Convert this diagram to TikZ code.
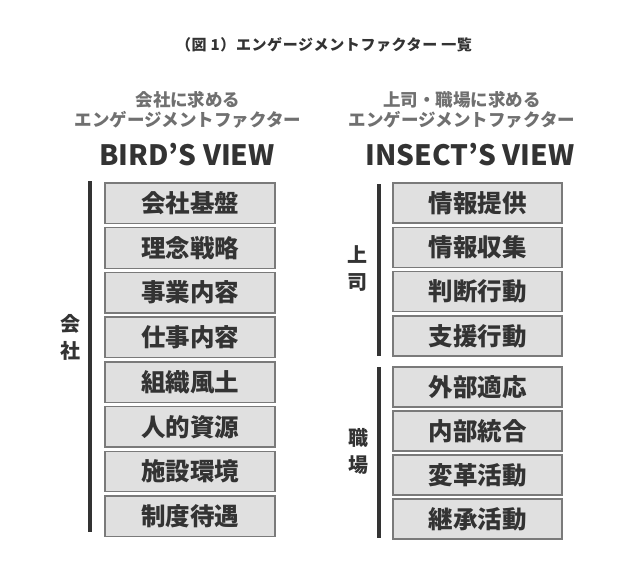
\documentclass[tikz,border=0pt]{standalone}
\usepackage{fontspec}
\setmainfont{Noto Sans CJK JP}[BoldFont={Noto Sans CJK JP Bold}]
\newfontfamily\heavy{Noto Sans CJK JP Black}
\definecolor{txt}{HTML}{333333}
\definecolor{sub}{HTML}{707070}
\definecolor{boxfill}{HTML}{E0E0E0}
\definecolor{boxline}{HTML}{7A7A7A}
\begin{document}
\begin{tikzpicture}[x=1pt,y=-1pt,
  factor/.style={draw=boxline,line width=1.4pt,fill=boxfill,text=txt,
    minimum width=170pt,minimum height=40.5pt,inner sep=0pt,
    font=\heavy\fontsize{24.5}{24.5}\selectfont},
  rfactor/.style={factor,minimum width=169pt,minimum height=40pt},
  bar/.style={draw=txt,line width=3.5pt},
  side/.style={text=txt,align=center,font=\heavy\fontsize{20}{27}\selectfont},
  head/.style={text=sub,align=center,font=\heavy\fontsize{17.5}{20}\selectfont},
  view/.style={text=txt,font=\heavy\fontsize{28}{28}\selectfont}]
\useasboundingbox (0,0) rectangle (633,565);
\fill[white] (0,0) rectangle (633,565);
% title
\node[text=txt,font=\heavy\fontsize{15}{15}\selectfont\addfontfeature{LetterSpace=4}] (title) at (324,45) {（図 1）エンゲージメントファクター 一覧};
% headers
\node[head] (lh) at (188,110) {会社に求める\\エンゲージメントファクター};
\node[head] (rh) at (462,110) {上司・職場に求める\\エンゲージメントファクター};
\node[view] (lv) at (187,155) {BIRD’S VIEW};
\node[view] (rv) at (470,155) {INSECT’S VIEW};
% left boxes
\foreach \t [count=\i from 0] in {会社基盤,理念戦略,事業内容,仕事内容,組織風土,人的資源,施設環境,制度待遇}{
  \node[factor] (L\i) at (190,{203.25+44.7*\i}) {\t};
}
% right boxes
\foreach \t [count=\i from 0] in {情報提供,情報収集,判断行動,支援行動}{
  \node[rfactor] (R\i) at (477.5,{203+44.3*\i}) {\t};
}
\foreach \t [count=\i from 0] in {外部適応,内部統合,変革活動,継承活動}{
  \node[rfactor] (S\i) at (477.5,{387+44*\i}) {\t};
}
% bars
\coordinate (lb1) at (90,181); \coordinate (lb2) at (90,532);
\coordinate (rb1) at (379,184); \coordinate (rb2) at (379,356);
\coordinate (rc1) at (379,367); \coordinate (rc2) at (379,538);
\draw[bar] (lb1) -- (lb2);
\draw[bar] (rb1) -- (rb2);
\draw[bar] (rc1) -- (rc2);
% side labels
\node[side] (ls) at (70,337) {会\\社};
\node[side] (rs1) at (357,269) {上\\司};
\node[side] (rs2) at (358,451) {職\\場};
\end{tikzpicture}
\end{document}
